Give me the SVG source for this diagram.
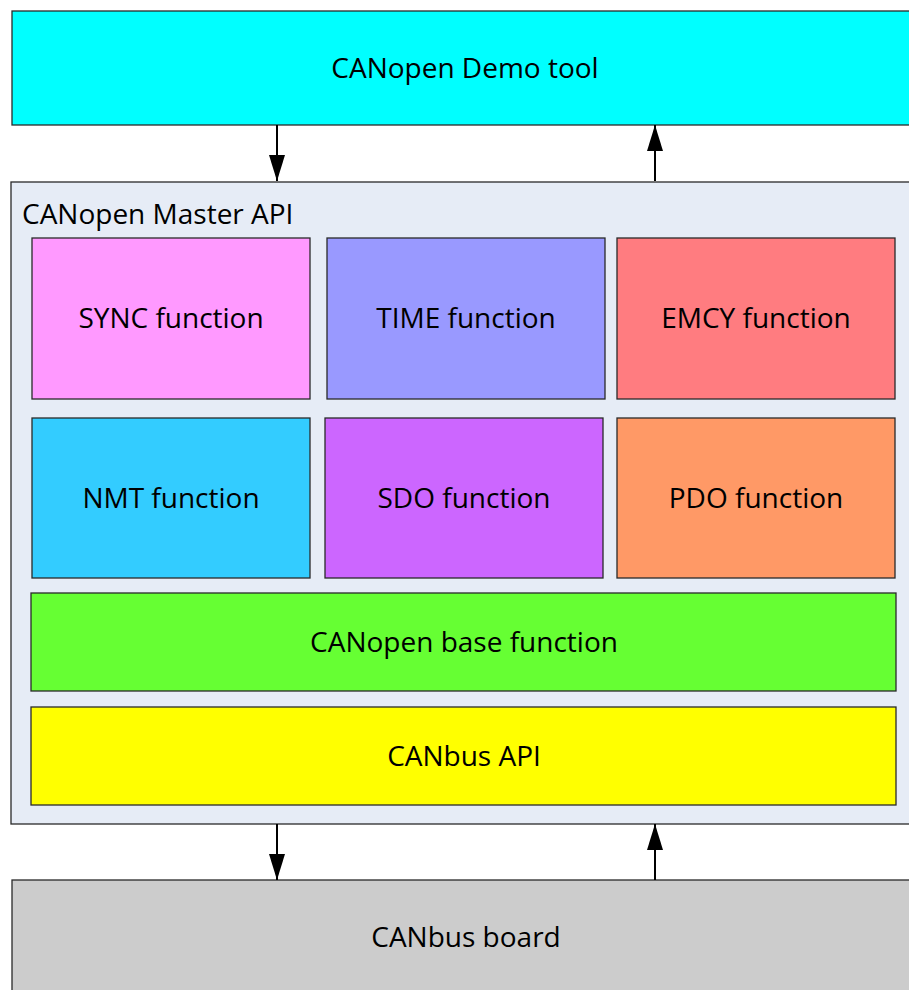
<svg xmlns="http://www.w3.org/2000/svg" width="909" height="990" viewBox="0 0 909 990">
<defs>
<style>
.box{stroke:#2a2a2a;stroke-width:1.3}
.lbl{font-family:"Open Sans","Liberation Sans",sans-serif;font-size:28px;fill:#000;text-anchor:middle}
.con{stroke:#000;stroke-width:2;fill:none}
</style>
<marker id="arr" viewBox="0 0 26 16" refX="26" refY="8" markerWidth="26" markerHeight="16" markerUnits="userSpaceOnUse" orient="auto">
<path d="M0,0 L26,8 L0,16 Z" fill="#000"/>
</marker>
</defs>
<rect width="909" height="990" fill="#fff"/>
<g id="demo-tool">
<rect class="box" x="12" y="11" width="906" height="114" fill="#00FFFF"/>
<text class="lbl" x="465" y="78">CANopen Demo tool</text>
</g>
<g id="master-api">
<rect class="box" x="11" y="182" width="907" height="642" fill="#E6ECF6"/>
<text class="lbl" x="22" y="224" style="text-anchor:start">CANopen Master API</text>
</g>
<g id="sync">
<rect class="box" x="32" y="238" width="278" height="161" fill="#FF99FF"/>
<text class="lbl" x="171" y="328">SYNC function</text>
</g>
<g id="time">
<rect class="box" x="327" y="238" width="278" height="161" fill="#9999FF"/>
<text class="lbl" x="466" y="328">TIME function</text>
</g>
<g id="emcy">
<rect class="box" x="617" y="238" width="278" height="161" fill="#FF7C80"/>
<text class="lbl" x="756" y="328">EMCY function</text>
</g>
<g id="nmt">
<rect class="box" x="32" y="418" width="278" height="160" fill="#33CCFF"/>
<text class="lbl" x="171" y="508">NMT function</text>
</g>
<g id="sdo">
<rect class="box" x="325" y="418" width="278" height="160" fill="#CC66FF"/>
<text class="lbl" x="464" y="508">SDO function</text>
</g>
<g id="pdo">
<rect class="box" x="617" y="418" width="278" height="160" fill="#FF9966"/>
<text class="lbl" x="756" y="508">PDO function</text>
</g>
<g id="base">
<rect class="box" x="31" y="593" width="865" height="98" fill="#66FF33"/>
<text class="lbl" x="464" y="652">CANopen base function</text>
</g>
<g id="canbus-api">
<rect class="box" x="31" y="707" width="865" height="98" fill="#FFFF00"/>
<text class="lbl" x="464" y="766">CANbus API</text>
</g>
<g id="board">
<rect class="box" x="12" y="880" width="906" height="120" fill="#CCCCCC"/>
<text class="lbl" x="466" y="947">CANbus board</text>
</g>
<g id="connectors">
<line class="con" x1="277" y1="125" x2="277" y2="181" marker-end="url(#arr)"/>
<line class="con" x1="655" y1="181" x2="655" y2="125" marker-end="url(#arr)"/>
<line class="con" x1="277" y1="824" x2="277" y2="880" marker-end="url(#arr)"/>
<line class="con" x1="655" y1="880" x2="655" y2="824" marker-end="url(#arr)"/>
</g>
</svg>
